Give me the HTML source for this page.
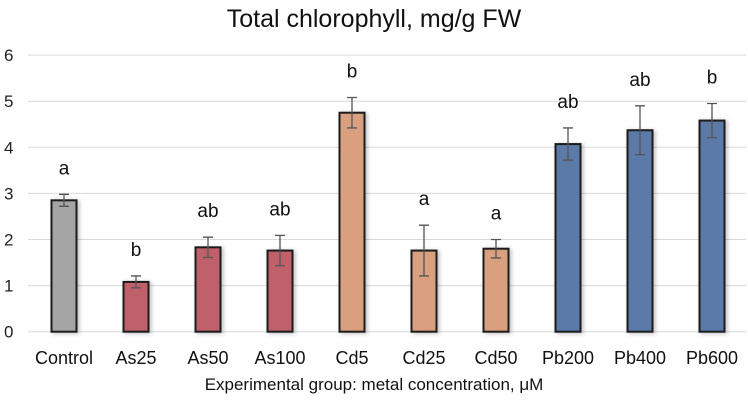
<!DOCTYPE html>
<html><head><meta charset="utf-8"><style>
body{margin:0;background:#fff;}
svg{display:block;font-family:"Liberation Sans",sans-serif;}
</style></head><body>
<svg id="chart" width="748" height="402">
<defs><filter id="sh" x="-30%" y="-10%" width="160%" height="130%"><feDropShadow dx="2" dy="1" stdDeviation="2" flood-color="#000" flood-opacity="0.25"/></filter></defs>
<text x="374" y="27" font-size="25" text-anchor="middle" fill="#111">Total chlorophyll, mg/g FW</text>
<text x="374" y="390" font-size="17" text-anchor="middle" fill="#111">Experimental group: metal concentration, μM</text>
<g id="grid"></g><g id="bars"></g>
</svg>
<script>
const categories=["Control","As25","As50","As100","Cd5","Cd25","Cd50","Pb200","Pb400","Pb600"];
const values=[2.85,1.08,1.83,1.76,4.75,1.76,1.80,4.07,4.37,4.58];
const errors=[0.13,0.13,0.22,0.33,0.33,0.55,0.20,0.35,0.53,0.37];
const letters=["a","b","ab","ab","b","a","a","ab","ab","b"];
const colors=["#a5a5a5","#c0606b","#c0606b","#c0606b","#d9a07f","#d9a07f","#d9a07f","#5b7aa7","#5b7aa7","#5b7aa7"];
const yTicks=[0,1,2,3,4,5,6];
const NS="http://www.w3.org/2000/svg";
const y=v=>331.7-v*46.1;
const x=i=>64+i*72;
const g=document.getElementById('grid'),b=document.getElementById('bars');
function mk(tag,attrs,parent){const e=document.createElementNS(NS,tag);for(const k in attrs)e.setAttribute(k,attrs[k]);parent.appendChild(e);return e;}
yTicks.forEach(t=>{
  const l=mk('line',{x1:28,x2:746,y1:y(t),y2:y(t),stroke:'#d9d9d9','stroke-width':1},g);
  
  
  const tx=mk('text',{x:4,y:y(t)+6,'font-size':17,fill:'#222'},g);tx.textContent=t;
  
  
});
categories.forEach((c,i)=>{
  const cx=x(i),top=y(values[i]);
  const r=mk('rect',{x:cx-12.5,y:top,width:25,height:y(0)-top,fill:colors[i],stroke:'#1a1a1a','stroke-width':2,filter:'url(#sh)'},b);
  
  
  const e1=y(values[i]+errors[i]),e2=y(values[i]-errors[i]);
  const eb=mk('path',{d:`M${cx},${e1}V${e2}M${cx-5},${e1}H${cx+5}M${cx-5},${e2}H${cx+5}`,stroke:'#555','stroke-width':1.3,fill:'none'},b);
  
  
  const lt=mk('text',{x:cx,y:e1-20,'font-size':19,'text-anchor':'middle',fill:'#111'},b);lt.textContent=letters[i];
  
  
  const xl=mk('text',{x:cx,y:364,'font-size':18,'text-anchor':'middle',fill:'#111'},b);xl.textContent=c;
  
  
});
</script>
</body></html>
